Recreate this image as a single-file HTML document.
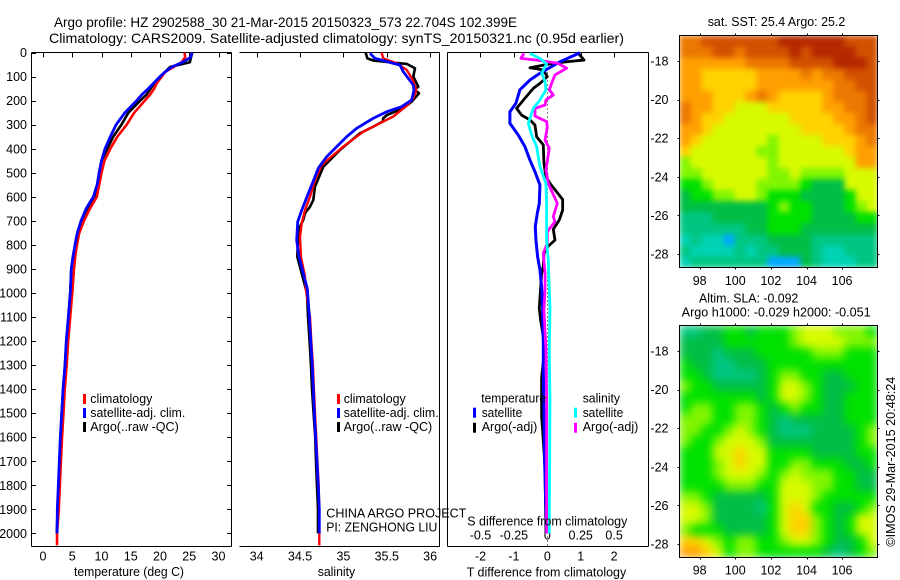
<!DOCTYPE html>
<html>
<head>
<meta charset="utf-8">
<title>Argo profile</title>
<style>
html,body{margin:0;padding:0;background:#fff;}
svg{display:block;}
text{font-family:"Liberation Sans",sans-serif;font-size:12.5px;fill:#000;}
.ax{stroke:#000;stroke-width:1;shape-rendering:crispEdges;fill:none;}
</style>
</head>
<body>
<svg id="chart" xmlns="http://www.w3.org/2000/svg" width="900" height="580" viewBox="0 0 900 580">
<defs>
<clipPath id="clipMap1"><rect x="679.5" y="35.5" width="198" height="232"/></clipPath>
<clipPath id="clipMap2"><rect x="679.5" y="325.5" width="198" height="232"/></clipPath>
<filter id="softSst" x="-5%" y="-5%" width="110%" height="110%" color-interpolation-filters="sRGB"><feGaussianBlur stdDeviation="3"/></filter>
<filter id="softSla" x="-5%" y="-5%" width="110%" height="110%" color-interpolation-filters="sRGB"><feGaussianBlur stdDeviation="4.5"/></filter>
</defs>
<text x="54" y="27" textLength="463" lengthAdjust="spacingAndGlyphs" style="font-size:14px">Argo profile: HZ 2902588_30 21-Mar-2015 20150323_573 22.704S 102.399E</text>
<text x="49" y="43" textLength="575" lengthAdjust="spacingAndGlyphs" style="font-size:14px">Climatology: CARS2009. Satellite-adjusted climatology: synTS_20150321.nc (0.95d earlier)</text>

<g id="p1"></g>
<g id="p2"></g>
<g id="p3"></g>
<g id="m1"></g>
<g id="m2"></g>

<g>
<rect x="83" y="394" width="3" height="10" fill="#f00"/>
<rect x="83" y="408" width="3" height="10" fill="#00f"/>
<rect x="83" y="422" width="3" height="10" fill="#000"/>
<text x="90.3" y="403" textLength="62" lengthAdjust="spacingAndGlyphs">climatology</text>
<text x="90.3" y="417" textLength="95" lengthAdjust="spacingAndGlyphs">satellite-adj. clim.</text>
<text x="90.3" y="431" textLength="88.5" lengthAdjust="spacingAndGlyphs">Argo(..raw -QC)</text>
</g>
<g>
<rect x="337" y="394" width="3" height="10" fill="#f00"/>
<rect x="337" y="408" width="3" height="10" fill="#00f"/>
<rect x="337" y="422" width="3" height="10" fill="#000"/>
<text x="343.7" y="403" textLength="62" lengthAdjust="spacingAndGlyphs">climatology</text>
<text x="343.7" y="417" textLength="95" lengthAdjust="spacingAndGlyphs">satellite-adj. clim.</text>
<text x="343.7" y="431" textLength="88.5" lengthAdjust="spacingAndGlyphs">Argo(..raw -QC)</text>
</g>
<text x="326.3" y="517.3" textLength="140" lengthAdjust="spacingAndGlyphs">CHINA ARGO PROJECT</text>
<text x="326.3" y="531.3" textLength="111" lengthAdjust="spacingAndGlyphs">PI: ZENGHONG LIU</text>
<text x="74" y="576" textLength="110" lengthAdjust="spacingAndGlyphs">temperature (deg C)</text>
<text x="317.7" y="576" textLength="37.5" lengthAdjust="spacingAndGlyphs">salinity</text>

<g>
<text x="481.3" y="402.7" textLength="64.7" lengthAdjust="spacingAndGlyphs">temperature</text>
<text x="582.7" y="402.7" textLength="37.3" lengthAdjust="spacingAndGlyphs">salinity</text>
<rect x="473" y="407.7" width="3" height="10" fill="#00f"/>
<rect x="473" y="422.7" width="3" height="10" fill="#000"/>
<rect x="574" y="407.7" width="3" height="10" fill="#0ff"/>
<rect x="574" y="422.7" width="3" height="10" fill="#f0f"/>
<text x="481.7" y="417" textLength="40.6" lengthAdjust="spacingAndGlyphs">satellite</text>
<text x="481.7" y="431" textLength="55.6" lengthAdjust="spacingAndGlyphs">Argo(-adj)</text>
<text x="582.7" y="417" textLength="40.6" lengthAdjust="spacingAndGlyphs">satellite</text>
<text x="582.7" y="431" textLength="55.6" lengthAdjust="spacingAndGlyphs">Argo(-adj)</text>
</g>
<text x="467.3" y="525.3" textLength="160" lengthAdjust="spacingAndGlyphs">S difference from climatology</text>
<text x="466.7" y="576.7" textLength="159.5" lengthAdjust="spacingAndGlyphs">T difference from climatology</text>

<text x="707.7" y="26" textLength="137.6" lengthAdjust="spacingAndGlyphs">sat. SST: 25.4 Argo: 25.2</text>
<text x="699" y="302.3" textLength="99.3" lengthAdjust="spacingAndGlyphs">Altim. SLA: -0.092</text>
<text x="681.7" y="316.3" textLength="189" lengthAdjust="spacingAndGlyphs">Argo h1000: -0.029 h2000: -0.051</text>
<text transform="translate(895,546.7) rotate(-90)" textLength="170" lengthAdjust="spacingAndGlyphs">©IMOS 29-Mar-2015 20:48:24</text>
</svg>
<script>
const depthTicks=[0,100,200,300,400,500,600,700,800,900,1000,1100,1200,1300,1400,1500,1600,1700,1800,1900,2000];
const tempTicks=[0,5,10,15,20,25,30];
const salTicks=[34,34.5,35,35.5,36];
const tDiffTicks=[-2,-1,0,1,2];
const sDiffTicks=[-0.5,-0.25,0,0.25,0.5];
const lonTicks=[98,100,102,104,106];
const latTicks=[-18,-20,-22,-24,-26,-28];

const tempDepths=[0,20,40,60,80,100,125,150,175,200,250,300,350,400,450,500,550,600,650,700,750,800,850,900,1000,1100,1200,1300,1400,1500,1600,1700,1800,1900,2000];
const tempClim=[24.2,24.3,23.7,22.3,20.9,20.3,19.5,19,18.3,17.4,15.6,14.3,12.7,11.5,10.5,10,9.6,9.2,8,7,6.2,5.8,5.5,5.3,5,4.65,4.3,4.05,3.72,3.5,3.26,3.06,2.88,2.7,2.4];
const tempClimTail=[2050,2.4];
const tempSat=[25.5,25.2,23.9,22,20.9,20,19,18,16.9,16,14,12.5,11.5,10.6,10,9.6,9.25,8.6,7.35,6.5,5.86,5.47,5.13,4.84,4.67,4.33,3.98,3.76,3.42,3.2,2.96,2.79,2.62,2.45,2.4];
const tempArgo=[25.5,25.3,25.1,21.7,20.9,20,19.1,18.4,17.7,16.6,14.6,13.4,12,11,10,9.6,9.3,9.06,7.7,6.8,6,5.5,5.1,4.84,4.65,4.35,4,3.75,3.45,3.2,3,2.85,2.72,2.5,2.35];

const salSatDepths=[3,24,52,79,135,156,197,225,246,273,315,350,391,433,481,517,586,656,704,780,850,919,982,1100,1200,1300,1400,1500,1600,1700,1800,1900,2000];
const salSat=[35.307,35.364,35.653,35.69,35.806,35.814,35.788,35.672,35.5,35.345,35.153,35.038,34.923,34.807,34.71,34.672,34.595,34.519,34.473,34.461,34.488,34.537,34.584,34.607,34.623,34.641,34.653,34.665,34.68,34.695,34.71,34.722,34.722];
const salClimDepths=[0,24,45,72,114,156,190,221,266,294,329,391,467,530,600,655,710,766,849,932,988,1100,1200,1300,1400,1500,1600,1700,1800,1900,2000,2050];
const salClim=[35.44,35.46,35.615,35.73,35.8,35.84,35.806,35.73,35.575,35.42,35.23,34.999,34.75,34.672,34.615,34.557,34.519,34.5,34.51,34.557,34.569,34.615,34.63,34.648,34.66,34.672,34.687,34.7,34.715,34.72,34.722,34.722];
const salArgoDepths=[0,24,33,39,47,65,100,142,153,169,204,232,260,273,287,308,336,405,475,558,613,641,668,696,731,807,849,918,974,1000,1100,1200,1300,1400,1500,1600,1700,1800,1900,2000];
const salArgo=[35.257,35.276,35.345,35.5,35.73,35.826,35.806,35.864,35.814,35.872,35.788,35.69,35.5,35.46,35.453,35.345,35.19,34.96,34.768,34.672,34.653,34.615,34.557,34.537,34.49,34.473,34.468,34.519,34.56,34.58,34.592,34.61,34.626,34.638,34.656,34.675,34.684,34.695,34.707,34.707];

const dtSatDepths=[0,10,38,86,114,155,211,246,294,343,391,447,495,551,627,669,724,780,849,904,974,1064,1100,1200,1300,1400,1500,1600,1700,1800,1900,2000];
const dtSat=[0.98,0.83,0.38,-0.22,-0.52,-0.82,-0.94,-1.12,-1.12,-0.87,-0.67,-0.52,-0.37,-0.22,-0.24,-0.3,-0.36,-0.34,-0.29,-0.22,-0.17,-0.14,-0.14,-0.12,-0.12,-0.11,-0.1,-0.09,-0.08,-0.06,-0.04,-0.02];
const dtArgoDepths=[3,31,38,47,63,72,100,128,149,190,232,260,280,301,350,384,461,516,544,611,655,696,735,780,805,835,890,918,1064,1112,1209,1244,1355,1514,1570,1722,2000];
const dtArgo=[0.93,1.1,0.58,0.08,-0.52,-0.12,0,-0.22,-0.42,-0.67,-0.92,-0.77,-0.52,-0.37,-0.32,-0.12,-0.1,-0.04,0.08,0.46,0.46,0.36,0.18,0.23,0.03,-0.1,-0.12,-0.17,-0.24,-0.2,-0.09,-0.09,-0.17,-0.17,-0.14,-0.07,-0.04];
const dsArgoDepths=[3,24,33,45,65,93,128,155,176,197,218,232,264,287,311,364,398,488,544,627,682,703,745,793,835,918,988,1070,1237,1445,1722,2000];
const dsArgo=[-0.175,-0.197,-0.055,0.082,0.145,0.057,0.032,0.015,0.045,-0.01,-0.017,-0.092,-0.092,-0.005,0,-0.017,0.015,-0.01,0.007,0.075,0.045,0.057,0,0,-0.03,-0.017,-0.017,-0.025,-0.01,-0.005,-0.005,-0.005];
const dsSatDepths=[3,24,47,86,121,155,197,232,294,343,391,474,544,641,780,863,1064,1237,1445,2000];
const dsSat=[-0.13,-0.055,-0.005,-0.042,-0.017,-0.01,-0.055,-0.105,-0.142,-0.117,-0.08,-0.055,-0.01,-0.005,-0.005,0.007,0.02,0.015,0.02,0.015];

const levelColors=["#0030c0","#00a8ff","#00d2b4","#00c682","#00be46","#00e100","#82f500","#d7fa00","#ffd200","#ffa000","#eb7800","#d25000","#b42800"];
const sstRows=[
[10,10,11,11,11,11,11,11,11,12,12,12,12,12,12,11,11,11],
[10,10,10,11,11,10,11,11,11,11,12,11,12,12,12,12,11,11],
[9,9,9,9,9,9,10,10,10,10,11,11,11,11,12,12,12,11],
[9,9,8,8,8,8,8,9,9,9,9,10,9,10,10,11,11,11],
[9,9,8,8,8,8,8,9,9,9,9,9,9,9,10,10,11,11],
[9,9,9,8,8,8,9,10,9,8,8,8,8,9,10,10,10,11],
[10,9,9,8,8,7,7,7,8,8,8,8,8,9,9,10,10,11],
[10,9,8,8,7,7,7,7,7,7,8,8,8,8,9,9,10,11],
[9,9,8,7,7,7,7,7,7,7,7,8,8,8,8,9,10,10],
[9,8,7,7,7,7,7,7,6,7,7,7,7,8,8,8,9,10],
[8,7,7,7,7,7,7,6,6,7,7,7,7,7,7,8,9,9],
[6,7,7,7,7,7,7,7,6,7,7,7,7,7,7,7,9,9],
[6,6,7,7,7,7,7,7,6,6,7,6,6,6,6,7,7,7],
[5,5,6,7,7,7,7,6,6,6,6,5,4,4,4,7,7,7],
[4,5,5,6,6,7,7,6,5,5,5,4,4,4,4,5,7,7],
[4,4,4,4,4,4,4,4,5,6,5,5,4,4,4,5,6,7],
[3,3,3,4,4,4,4,4,5,5,5,5,4,4,4,4,5,5],
[3,3,3,3,3,3,4,4,5,5,5,4,4,4,4,4,4,4],
[2,3,2,2,1,3,3,3,4,4,4,4,3,3,3,3,3,3],
[3,2,2,2,2,3,2,3,3,4,4,4,3,2,2,3,3,3],
[2,3,3,3,3,3,3,3,1,1,1,4,3,2,2,2,3,3]
];
const slaRows=[
[3,3,4,4,5,5,4,5,5,5,6,7,7,7,6,6,6,5],
[4,4,4,4,5,5,5,5,5,5,6,7,7,7,7,6,6,6],
[4,4,4,3,4,4,4,5,5,5,5,5,6,6,6,5,5,5],
[5,4,4,3,3,4,4,4,5,5,5,5,5,5,5,5,5,5],
[5,5,4,3,3,3,3,4,5,6,6,5,5,4,4,5,5,5],
[6,5,5,4,4,4,4,4,5,7,7,6,5,4,4,4,5,5],
[5,5,5,5,5,5,5,4,5,7,7,6,5,4,4,5,5,5],
[5,6,6,5,5,6,6,5,4,5,6,5,5,4,4,5,5,5],
[6,6,6,5,5,6,6,5,4,3,4,4,4,4,4,5,5,5],
[6,6,5,5,6,7,6,5,4,3,3,3,4,4,4,4,5,6],
[6,5,5,6,7,7,7,6,4,4,4,4,4,4,4,4,5,6],
[5,5,5,7,7,8,7,7,5,5,5,5,4,4,4,4,5,5],
[5,5,5,6,7,8,7,7,5,5,6,6,5,5,5,4,4,5],
[5,5,5,6,7,7,7,6,5,6,7,6,6,6,5,5,4,4],
[5,5,5,5,6,6,6,5,5,7,7,7,6,6,5,5,4,4],
[6,6,5,4,4,4,4,4,5,7,7,7,6,5,5,5,5,5],
[7,7,6,4,4,4,4,3,5,7,8,7,5,5,4,4,5,6],
[7,7,6,4,4,4,4,4,5,7,8,8,6,5,4,5,7,7],
[6,5,5,5,4,4,4,4,5,7,8,8,6,5,4,5,7,7],
[8,8,7,6,5,6,6,5,5,6,7,7,6,5,4,4,5,7],
[9,9,8,7,5,6,6,5,5,5,5,5,5,4,3,4,5,6]
];

const NS="http://www.w3.org/2000/svg";
const yDepth=d=>52.6+d*0.2404;
const xTemp=t=>43+5.85*t;
const xSal=s=>256.7+86.7*(s-34);
const xDT=v=>547.3+33.4*v;
const xDS=v=>547.3+133.6*v;
const xLon=lon=>699.7+17.8*(lon-98);
const yLat1=lat=>61+19.3*(-18-lat);
const yLat2=lat=>351+19.3*(-18-lat);

function make(tag,parent){
  const el=document.createElementNS(NS,tag);
  parent.appendChild(el);
  return el;
}
function seg(parent,x1,y1,x2,y2,name){
  const l=make('line',parent);
  l.setAttribute('x1',x1);l.setAttribute('y1',y1);l.setAttribute('x2',x2);l.setAttribute('y2',y2);
  l.setAttribute('class','ax');
  
  
  return l;
}
function label(parent,x,y,str,anchor,name){
  const t=make('text',parent);
  t.setAttribute('x',x);t.setAttribute('y',y);
  t.setAttribute('text-anchor',anchor);
  t.textContent=str;
  
  
  return t;
}
function profile(parent,depths,vals,xf,color,width,name){
  const p=make('polyline',parent);
  p.setAttribute('points',depths.map((d,i)=>xf(vals[i]).toFixed(2)+','+yDepth(d).toFixed(2)).join(' '));
  p.setAttribute('fill','none');
  p.setAttribute('stroke',color);
  p.setAttribute('stroke-width',width);
  p.setAttribute('stroke-linejoin','round');
  
  
  return p;
}
function panelFrame(g,left,right,xTicks,xf,fmt,hasLeft,hasRight){
  const top=52.5,bottom=546.5;
  seg(g,left,top,right,top,'top-axis-line');
  seg(g,left,bottom,right,bottom,'bottom-axis-line');
  if(hasLeft){seg(g,left,top,left,bottom,'left-axis-line');}
  if(hasRight){seg(g,right,top,right,bottom,'right-axis-line');}
  xTicks.forEach(v=>{
    seg(g,Math.round(xf(v))+0.5,top,Math.round(xf(v))+0.5,top+5,'x-tick');
  });
  if(fmt){
    xTicks.forEach(v=>{
      label(g,xf(v),560.7,fmt(v),'middle','x-tick-label');
    });
  }
}

const p1=document.getElementById('p1');
const p2=document.getElementById('p2');
const p3=document.getElementById('p3');

panelFrame(p1,31.5,231.5,tempTicks,xTemp,v=>String(v),true,true);
depthTicks.forEach(d=>{
  const y=Math.round(yDepth(d))+0.5;
  seg(p1,31.5,y,36,y,'y-tick-left');
  seg(p1,227,y,231.5,y,'y-tick-right');
  label(p1,27,yDepth(d)+4.5,String(d),'end','y-tick-label');
});
profile(p1,tempDepths,tempArgo,xTemp,'#000',2.6,'temperature-argo-line');
profile(p1,tempDepths.concat([tempClimTail[0]]),tempClim.concat([tempClimTail[1]]),xTemp,'#f00',2.6,'temperature-climatology-line');
profile(p1,tempDepths,tempSat,xTemp,'#00f',2.8,'temperature-satellite-line');

panelFrame(p2,239.5,439.5,salTicks,xSal,v=>String(v),false,true);
profile(p2,salArgoDepths,salArgo,xSal,'#000',2.6,'salinity-argo-line');
profile(p2,salClimDepths,salClim,xSal,'#f00',2.4,'salinity-climatology-line');
profile(p2,salSatDepths,salSat,xSal,'#00f',2.8,'salinity-satellite-line');

panelFrame(p3,447.5,648.5,tDiffTicks,xDT,v=>String(v),true,true);
sDiffTicks.forEach(v=>{
  label(p3,xDS(v),539.3,String(v),'middle','s-diff-tick-label');
});
const zero=seg(p3,547.5,52.5,547.5,546,'zero-line');
zero.setAttribute('stroke-dasharray','1 3');
profile(p3,dtArgoDepths,dtArgo,xDT,'#000',2.8,'t-diff-argo-line');
profile(p3,dtSatDepths,dtSat,xDT,'#00f',3,'t-diff-satellite-line');
profile(p3,dsArgoDepths,dsArgo,xDS,'#f0f',2.8,'s-diff-argo-line');
profile(p3,dsSatDepths,dsSat,xDS,'#0ff',2.8,'s-diff-satellite-line');

function drawMap(g,rows,top,yf,clipId,filterId,tickY){
  const left=679.5,w=198,h=232;
  const clip=make('g',g);
  clip.setAttribute('clip-path','url(#'+clipId+')');
  
  
  const blur=make('g',clip);
  blur.setAttribute('filter','url(#'+filterId+')');
  
  
  const cw=w/rows[0].length, ch=h/rows.length;
  rows.forEach((row,r)=>{
    row.forEach((lv,c)=>{
      const cell=make('rect',blur);
      cell.setAttribute('x',(left+c*cw).toFixed(2));
      cell.setAttribute('y',(top+r*ch).toFixed(2));
      cell.setAttribute('width',(cw+0.5).toFixed(2));
      cell.setAttribute('height',(ch+0.5).toFixed(2));
      cell.setAttribute('fill',levelColors[lv]);
      
      
    });
  });
  const frame=make('rect',g);
  frame.setAttribute('x',left);frame.setAttribute('y',top);frame.setAttribute('width',w);frame.setAttribute('height',h);
  frame.setAttribute('class','ax');
  
  
  lonTicks.forEach(lon=>{
    const x=Math.round(xLon(lon))+0.5;
    seg(g,x,top-2,x,top,'map-top-tick');
    seg(g,x,top+h,x,top+h+2,'map-bottom-tick');
    label(g,xLon(lon),tickY,String(lon),'middle','map-lon-label');
  });
  latTicks.forEach(lat=>{
    const y=Math.round(yf(lat))+0.5;
    seg(g,left-2,y,left,y,'map-left-tick');
    seg(g,left+w,y,left+w+2,y,'map-right-tick');
    label(g,668.5,yf(lat)+4.5,String(lat),'end','map-lat-label');
  });
}
drawMap(document.getElementById('m1'),sstRows,35.5,yLat1,'clipMap1','softSst',285);
drawMap(document.getElementById('m2'),slaRows,325.5,yLat2,'clipMap2','softSla',574.3);
</script>
</body>
</html>
